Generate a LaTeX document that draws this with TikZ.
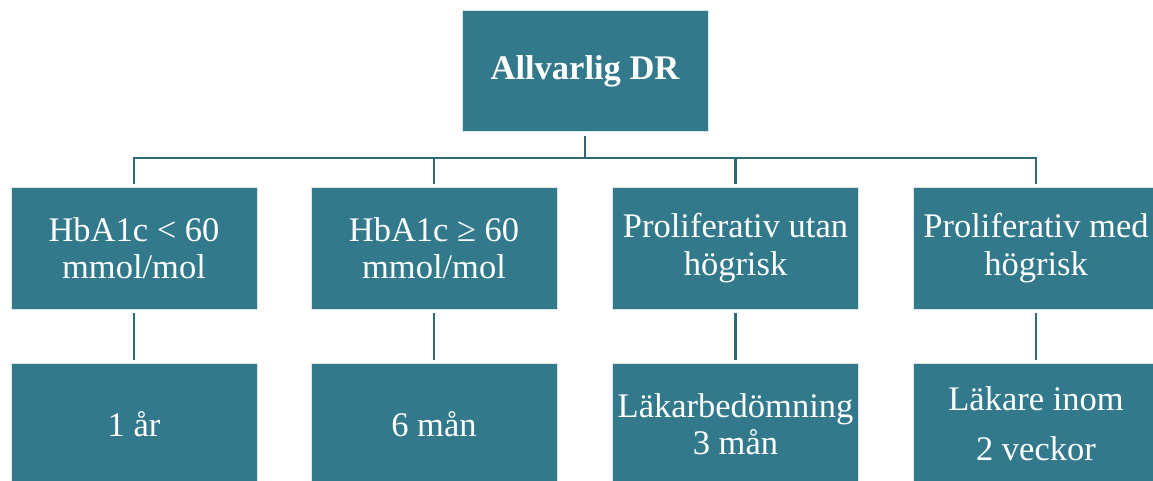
\documentclass[tikz,border=0pt]{standalone}
\usepackage{fontspec}
\setmainfont{Liberation Serif}
\definecolor{boxfill}{HTML}{31798B}
\definecolor{boxedge}{HTML}{D6E6EA}
\definecolor{linkcol}{HTML}{2B6A79}
\tikzset{
  card/.style={rectangle, fill=boxfill, draw=boxedge, line width=0.8pt,
    minimum width=246pt, inner sep=0pt, align=center, text=white,
    font=\fontsize{34.5}{37.5}\selectfont},
  link/.style={draw=linkcol, line width=2.8pt},
}
\begin{document}
\begin{tikzpicture}[x=1pt,y=-1pt]
  \useasboundingbox (0,0) rectangle (1153,480);
  \clip (0,0) rectangle (1153,480);
  \fill[white] (0,0) rectangle (1153,480);

  % root
  \node[card, minimum height=121pt, font=\fontsize{34.5}{37.5}\selectfont\bfseries] (root) at (585,71) {Allvarlig DR};

  % middle row
  \node[card, minimum height=122pt] (m1) at (134,248) {HbA1c < 60\\mmol/mol};
  \node[card, minimum height=122pt] (m2) at (434,248) {HbA1c ≥ 60\\mmol/mol};
  \node[card, minimum height=122pt] (m3) at (735.5,248) {Proliferativ utan\\högrisk};
  \node[card, minimum height=122pt] (m4) at (1036,248) {Proliferativ med\\högrisk};

  % bottom row
  \node[card, minimum height=122pt] (b1) at (134,424) {1 år};
  \node[card, minimum height=122pt] (b2) at (434,424) {6 mån};
  \node[card, minimum height=122pt] (b3) at (735.5,424) {Läkarbedömning\\3 mån};
  \node[card, minimum height=122pt, font=\fontsize{34.5}{50}\selectfont] (b4) at (1036,424) {Läkare inom\\2 veckor};

  % bus
  \coordinate (bus) at (0,158);
  \draw[link, shorten <=4pt] (root.south) -- (root.south |- bus);
  \draw[link, line cap=rect] (m1.north |- bus) -- (m4.north |- bus);
  \foreach \m in {m1,m2,m3,m4} {
    \draw[link, shorten >=3pt] (\m.north |- bus) -- (\m.north);
  }
  \foreach \m/\b in {m1/b1,m2/b2,m3/b3,m4/b4} {
    \draw[link, line width=2.4pt, shorten <=4pt, shorten >=3pt] (\m.south) -- (\b.north);
  }
\end{tikzpicture}
\end{document}
